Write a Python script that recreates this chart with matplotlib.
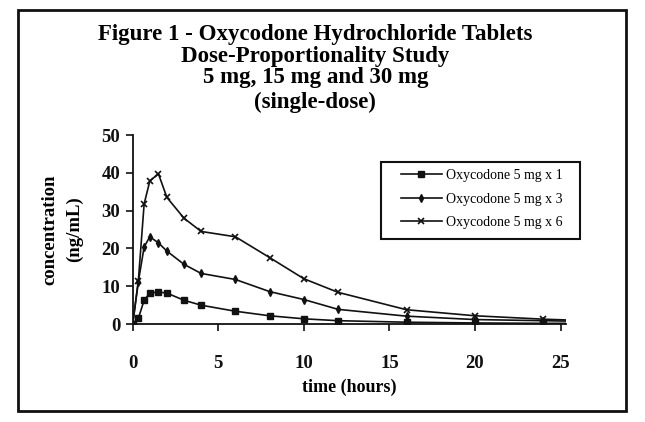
import matplotlib.pyplot as plt
from matplotlib.patches import Rectangle

plt.rcParams['font.family'] = ['Liberation Serif', 'DejaVu Serif']

# Tempos de coleta (horas)
tempo = [0, 0.33, 0.67, 1, 1.5, 2, 3, 4, 6, 8, 10, 12, 16, 20, 24, 25.3]

# Concentrações (ng/mL)
conc_5mg_x1 = [0, 1.5, 6.3, 8.2, 8.5, 8.2, 6.3, 5.0, 3.4, 2.2, 1.4, 0.9, 0.5, 0.3, 0.2, 0.2]
conc_5mg_x3 = [0, 11.2, 20.4, 23.1, 21.5, 19.3, 15.8, 13.4, 11.8, 8.6, 6.5, 3.9, 2.1, 1.2, 0.9, 0.8]
conc_5mg_x6 = [0, 11.4, 31.8, 37.8, 39.8, 33.5, 28.0, 24.5, 23.1, 17.6, 12.0, 8.4, 3.8, 2.2, 1.3, 1.1]

rotulos = ['Oxycodone 5 mg x 1', 'Oxycodone 5 mg x 3', 'Oxycodone 5 mg x 6']

titulo = ['Figure 1 - Oxycodone Hydrochloride Tablets',
          'Dose-Proportionality Study',
          '5 mg, 15 mg and 30 mg',
          '(single-dose)']

W, H = 645, 422
fig = plt.figure(figsize=(W / 100, H / 100), dpi=100)
ax = fig.add_axes([0.2057, 0.232, 0.6713, 0.448])

marcas = list(range(len(tempo) - 1))  # sem marcador no último ponto
ax.plot(tempo, conc_5mg_x1, color='#111111', lw=1.2, marker='s', ms=5,
        markevery=marcas, label=rotulos[0])
ax.plot(tempo, conc_5mg_x3, color='#111111', lw=1.2, marker='d', ms=4,
        markevery=marcas, label=rotulos[1])
ax.plot(tempo, conc_5mg_x6, color='#111111', lw=1.2, marker='x', ms=5,
        mew=1.2, markevery=marcas, label=rotulos[2])

ax.set_xlim(0, 25.3)
ax.set_ylim(0, 50)
ax.set_xticks([0, 5, 10, 15, 20, 25])
ax.set_yticks([0, 10, 20, 30, 40, 50])
for s in ['top', 'right']:
    ax.spines[s].set_visible(False)
for s in ['left', 'bottom']:
    ax.spines[s].set_linewidth(1.3)
    ax.spines[s].set_color('#111111')
ax.tick_params(direction='out', length=5, width=1.2, colors='#111111',
               labelsize=13.5)
ax.tick_params(axis='x', pad=17)
ax.tick_params(axis='y', pad=4)
for lbl in ax.get_xticklabels() + ax.get_yticklabels():
    lbl.set_fontweight('bold')

ax.set_xlabel('time (hours)', fontsize=13, fontweight='bold', labelpad=5)
ax.set_ylabel('concentration\n(ng/mL)', fontsize=13.5, fontweight='bold',
              labelpad=13, linespacing=1.55)

# Legenda sem moldura própria; moldura desenhada à parte
leg = ax.legend(loc='upper left', bbox_to_anchor=(0.59, 0.886), fontsize=10,
                frameon=False, handlelength=3.0, borderpad=0.4,
                labelspacing=0.75, handletextpad=0.3)
fig.patches.append(Rectangle((381 / W, 1 - 239 / H), 199 / W, 77 / H,
                             transform=fig.transFigure, fill=False,
                             edgecolor='#111111', linewidth=1.5))

# Título
base_y = [40, 62, 83, 108]
for linha, y in zip(titulo, base_y):
    fig.text(0.489, 1 - y / H, linha, ha='center', va='baseline',
             fontsize=16.5, fontweight='bold')

# Moldura externa
fig.patches.append(Rectangle((17.7 / W, 1 - 411 / H), (626 - 17.7) / W,
                             (411 - 10) / H, transform=fig.transFigure,
                             fill=False, edgecolor='#111111', linewidth=2))

fig.savefig('out.png', dpi=100)
